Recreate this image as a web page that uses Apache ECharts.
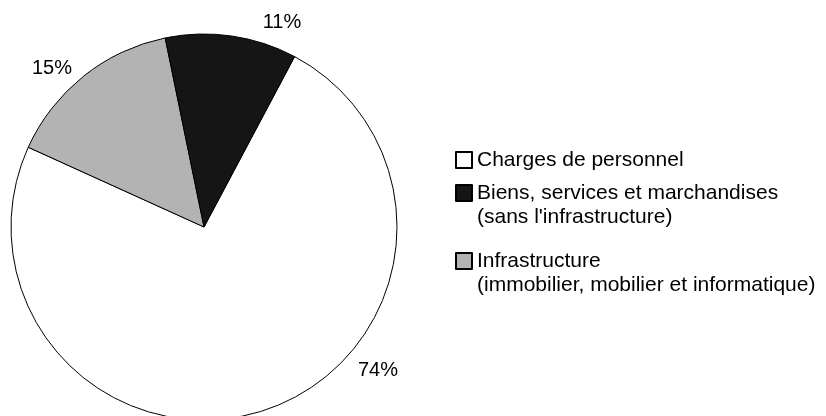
<!DOCTYPE html>
<html>
<head>
<meta charset="utf-8">
<script src="https://cdn.jsdelivr.net/npm/echarts@6/dist/echarts.min.js"></script>
<style>
  html, body { margin: 0; padding: 0; background: #fff; }
  #chart { width: 826px; height: 416px; }
</style>
</head>
<body>
<div id="chart"></div>
<script>
// categories in drawing order (clockwise)
const categories = ['Charges de personnel', 'Infrastructure', 'Biens, services et marchandises'];
const subtitles = ['', '(immobilier, mobilier et informatique)', "(sans l'infrastructure)"];
const values = [74, 15, 11];
const colors = ['#ffffff', '#b3b3b3', '#151515'];
// legend order as in the picture
const legendOrder = ['Charges de personnel', 'Biens, services et marchandises', 'Infrastructure'];

const chart = echarts.init(document.getElementById('chart'));

const labelPos = {
    'Charges de personnel': [378, 370],
    'Infrastructure': [52, 68],
    'Biens, services et marchandises': [282, 22]
};
const legendTops = [148, 157, 225];

const legendStyle = {
    orient: 'vertical',
    left: 455,
    padding: 0,
    itemWidth: 16,
    itemHeight: 16,
    itemGap: 0,
    selectedMode: false,
    icon: 'rect',
    textStyle: {
        fontFamily: 'Liberation Sans, Arial, sans-serif',
        fontSize: 21,
        lineHeight: 24,
        color: '#000'
    }
};

const option = {
    animation: false,
    legend: legendOrder.map((name, i) => {
        const idx = categories.indexOf(name);
        const multi = subtitles[idx] !== '';
        return Object.assign({}, legendStyle, {
            top: legendTops[i],
            data: [name],
            // blank first line keeps the icon level with the first text line
            formatter: n => multi ? ' \n' + n + '\n' + subtitles[idx] : n
        });
    }),
    series: [
        {
            type: 'pie',
            center: [204, 227],
            radius: 193,
            startAngle: 62,
            clockwise: true,
            silent: true,
            label: { show: false },
            labelLine: { show: false },
            itemStyle: {
                borderColor: '#000',
                borderWidth: 1
            },
            data: categories.map((name, i) => ({
                name: name,
                value: values[i],
                itemStyle: { color: colors[i] }
            }))
        }
    ],
    graphic: categories.map((name, i) => ({
        type: 'text',
        x: labelPos[name][0],
        y: labelPos[name][1],
        style: {
            text: values[i] + '%',
            fontFamily: 'Liberation Sans, Arial, sans-serif',
            fontSize: 20,
            fill: '#000',
            align: 'center',
            verticalAlign: 'middle'
        }
    }))
};

chart.setOption(option);
</script>
</body>
</html>
